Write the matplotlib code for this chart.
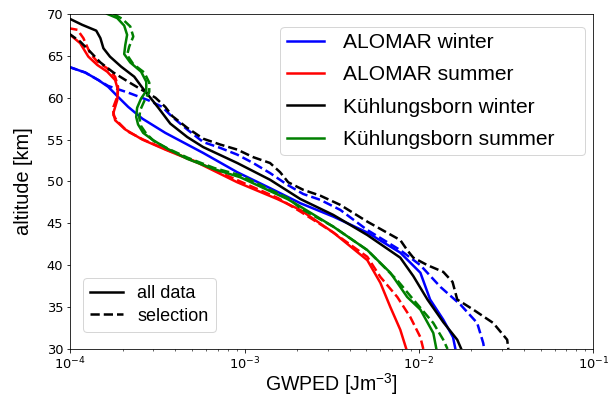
import numpy as np
import matplotlib.pyplot as plt
from matplotlib.lines import Line2D

# --- GWPED profiles (altitude in km, GWPED in J m^-3)

# ALOMAR winter
alo_w_alt = [63.7, 63.0, 62.1, 61.3, 60.1, 58.9, 57.5, 55.8, 53.4, 51.1, 49.2, 47.4, 45.8, 43.9, 41.5, 39.1, 35.9, 33.5, 31.4, 30.0]
alo_w_all = [9.75e-5, 1.22e-4, 1.45e-4, 1.65e-4, 1.88e-4, 2.15e-4, 2.59e-4, 3.51e-4, 5.79e-4, 9.08e-4, 1.40e-3, 2.09e-3, 3.23e-3, 5.06e-3, 7.82e-3, 1.02e-2, 1.16e-2, 1.38e-2, 1.57e-2, 1.62e-2]
alo_w_sel_alt = [63.7, 63.0, 62.1, 61.4, 60.6, 59.7, 58.9, 57.7, 56.2, 54.7, 54.0, 53.2, 52.2, 51.0, 49.6, 48.5, 47.8, 46.6, 44.2, 41.8, 40.0, 37.4, 35.3, 33.1, 30.7, 30.0]
alo_w_sel = [9.75e-5, 1.22e-4, 1.45e-4, 1.65e-4, 2.15e-4, 2.80e-4, 3.37e-4, 3.85e-4, 4.69e-4, 5.79e-4, 7.26e-4, 9.08e-4, 1.12e-3, 1.40e-3, 1.76e-3, 2.17e-3, 2.72e-3, 3.54e-3, 5.06e-3, 7.82e-3, 1.02e-2, 1.33e-2, 1.73e-2, 2.16e-2, 2.34e-2, 2.37e-2]

# ALOMAR summer
alo_s_alt = [67.7, 66.5, 64.9, 63.9, 63.1, 62.1, 60.9, 59.7, 58.2, 57.3, 56.2, 55.0, 53.8, 52.2, 49.9, 47.9, 46.6, 43.9, 40.6, 37.9, 35.0, 32.3, 30.0]
alo_s_all = [9.75e-5, 1.14e-4, 1.27e-4, 1.43e-4, 1.63e-4, 1.81e-4, 1.88e-4, 1.86e-4, 1.77e-4, 1.81e-4, 2.07e-4, 2.59e-4, 3.51e-4, 5.42e-4, 9.08e-4, 1.54e-3, 2.09e-3, 3.23e-3, 5.06e-3, 6.01e-3, 6.86e-3, 7.82e-3, 8.47e-3]
alo_s_sel_alt = [68.3, 68.1, 67.1, 65.3, 64.3, 63.5, 62.5, 61.3, 60.1, 58.9, 57.9, 57.2, 56.0, 55.0, 53.8, 52.2, 50.1, 48.0, 46.4, 43.9, 41.0, 38.6, 36.2, 33.8, 31.4, 30.0]
alo_s_sel = [9.75e-5, 1.10e-4, 1.19e-4, 1.30e-4, 1.43e-4, 1.63e-4, 1.81e-4, 1.88e-4, 1.86e-4, 1.77e-4, 1.77e-4, 1.86e-4, 2.12e-4, 2.62e-4, 3.56e-4, 5.50e-4, 9.20e-4, 1.56e-3, 2.09e-3, 3.23e-3, 5.06e-3, 6.01e-3, 7.52e-3, 8.93e-3, 1.02e-2, 1.06e-2]

# Kuehlungsborn winter
kb_w_alt = [69.5, 68.7, 68.0, 67.1, 65.9, 64.9, 63.7, 62.5, 61.2, 60.0, 58.8, 56.9, 55.3, 54.1, 52.2, 50.2, 47.9, 46.0, 43.6, 40.9, 38.7, 35.9, 33.2, 31.1, 30.0]
kb_w_all = [9.75e-5, 1.17e-4, 1.41e-4, 1.49e-4, 1.55e-4, 1.69e-4, 1.96e-4, 2.33e-4, 2.59e-4, 2.88e-4, 3.20e-4, 3.75e-4, 4.69e-4, 5.79e-4, 9.08e-4, 1.40e-3, 2.09e-3, 3.23e-3, 5.06e-3, 7.82e-3, 9.29e-3, 1.12e-2, 1.38e-2, 1.66e-2, 1.75e-2]
kb_w_sel_alt = [67.7, 66.7, 65.5, 64.2, 63.0, 61.9, 60.9, 60.0, 58.9, 57.8, 56.4, 55.1, 54.4, 53.8, 52.9, 52.2, 51.1, 49.9, 49.0, 48.3, 47.2, 45.2, 43.0, 41.8, 40.9, 40.0, 39.2, 38.0, 35.9, 34.7, 33.1, 31.1, 30.0]
kb_w_sel = [9.75e-5, 1.14e-4, 1.30e-4, 1.49e-4, 1.77e-4, 2.15e-4, 2.59e-4, 3.08e-4, 3.51e-4, 3.85e-4, 4.69e-4, 5.79e-4, 7.26e-4, 9.08e-4, 1.12e-3, 1.40e-3, 1.60e-3, 1.78e-3, 2.17e-3, 2.72e-3, 3.54e-3, 5.06e-3, 7.82e-3, 8.57e-3, 9.29e-3, 1.12e-2, 1.38e-2, 1.56e-2, 1.66e-2, 2.05e-2, 2.67e-2, 3.21e-2, 3.26e-2]

# Kuehlungsborn summer
kb_s_alt = [70.0, 69.5, 68.6, 67.5, 66.3, 65.2, 64.2, 63.1, 61.9, 60.8, 59.9, 58.8, 57.7, 56.8, 55.8, 55.0, 53.9, 52.7, 51.5, 50.5, 49.0, 47.9, 47.0, 44.6, 41.8, 39.1, 36.2, 34.7, 31.9, 30.0]
kb_s_all = [1.63e-4, 1.86e-4, 2.04e-4, 2.12e-4, 2.07e-4, 2.04e-4, 2.21e-4, 2.55e-4, 2.73e-4, 2.73e-4, 2.55e-4, 2.42e-4, 2.39e-4, 2.45e-4, 2.62e-4, 2.95e-4, 3.61e-4, 4.69e-4, 6.61e-4, 9.44e-4, 1.35e-3, 1.76e-3, 2.09e-3, 3.23e-3, 5.06e-3, 6.86e-3, 8.57e-3, 1.02e-2, 1.21e-2, 1.26e-2]
kb_s_sel_alt = [70.0, 69.4, 68.5, 67.3, 66.1, 65.1, 64.0, 63.0, 61.8, 60.7, 59.6, 58.5, 57.6, 56.6, 55.7, 54.8, 53.9, 52.8, 51.6, 50.7, 49.1, 48.0, 46.8, 44.6, 41.8, 38.2, 35.9, 33.1, 31.1, 30.0]
kb_s_sel = [1.77e-4, 1.99e-4, 2.21e-4, 2.30e-4, 2.18e-4, 2.12e-4, 2.30e-4, 2.66e-4, 2.84e-4, 2.84e-4, 2.66e-4, 2.52e-4, 2.49e-4, 2.55e-4, 2.73e-4, 3.03e-4, 3.65e-4, 4.75e-4, 6.70e-4, 9.57e-4, 1.37e-3, 1.78e-3, 2.09e-3, 3.23e-3, 5.06e-3, 7.52e-3, 9.29e-3, 1.21e-2, 1.38e-2, 1.46e-2]

labels = ['ALOMAR winter', 'ALOMAR summer', 'Kühlungsborn winter', 'Kühlungsborn summer']
colors = ['b', 'r', 'k', 'g']

profiles = [
    (alo_w_alt, alo_w_all, alo_w_sel_alt, alo_w_sel),
    (alo_s_alt, alo_s_all, alo_s_sel_alt, alo_s_sel),
    (kb_w_alt, kb_w_all, kb_w_sel_alt, kb_w_sel),
    (kb_s_alt, kb_s_all, kb_s_sel_alt, kb_s_sel),
]

txt_font = 'Liberation Sans'
lw = 2.5

# 72 dpi so that points == pixels
fig = plt.figure(figsize=(616 / 72, 397 / 72), dpi=72)
ax = fig.add_axes([0.114, 0.121, 0.849, 0.844])

for (alt, e_all, alt_sel, e_sel), c in zip(profiles, colors):
    ax.plot(e_all, alt, color=c, lw=lw)
    ax.plot(e_sel, alt_sel, color=c, lw=lw, ls='--')

ax.set_xscale('log')
ax.set_xlim(1e-4, 1e-1)
ax.set_ylim(30, 70)
ax.set_yticks(np.arange(30, 71, 5))
ax.tick_params(labelsize=13)

ax.set_xlabel(r'GWPED [Jm$^{\mathregular{-3}}$]', fontsize=19.5, family=txt_font, labelpad=-1)
ax.set_ylabel('altitude [km]', fontsize=20, family=txt_font, labelpad=14)

# --- legends: colours for the sites/seasons, line style for the data set
col_handles = [Line2D([], [], color=c, lw=lw) for c in colors]
# frame stretched to the width seen in the original
leg1 = ax.legend(col_handles, labels, loc='upper left', bbox_to_anchor=(0.402, 0.961, 0.583, 0.0),
                 mode='expand', borderaxespad=0, prop={'family': txt_font, 'size': 21},
                 handlelength=1.75, labelspacing=0.63, handletextpad=0.95, borderpad=0.3)
ax.add_artist(leg1)

ls_handles = [Line2D([], [], color='k', lw=lw), Line2D([], [], color='k', lw=lw, ls='--')]
ax.legend(ls_handles, ['all data', 'selection'], loc='lower left', bbox_to_anchor=(0.025, 0.051),
          borderaxespad=0, prop={'family': txt_font, 'size': 18}, handlelength=1.8,
          labelspacing=0.3, handletextpad=0.8)

fig.savefig('out.png', dpi=72)
